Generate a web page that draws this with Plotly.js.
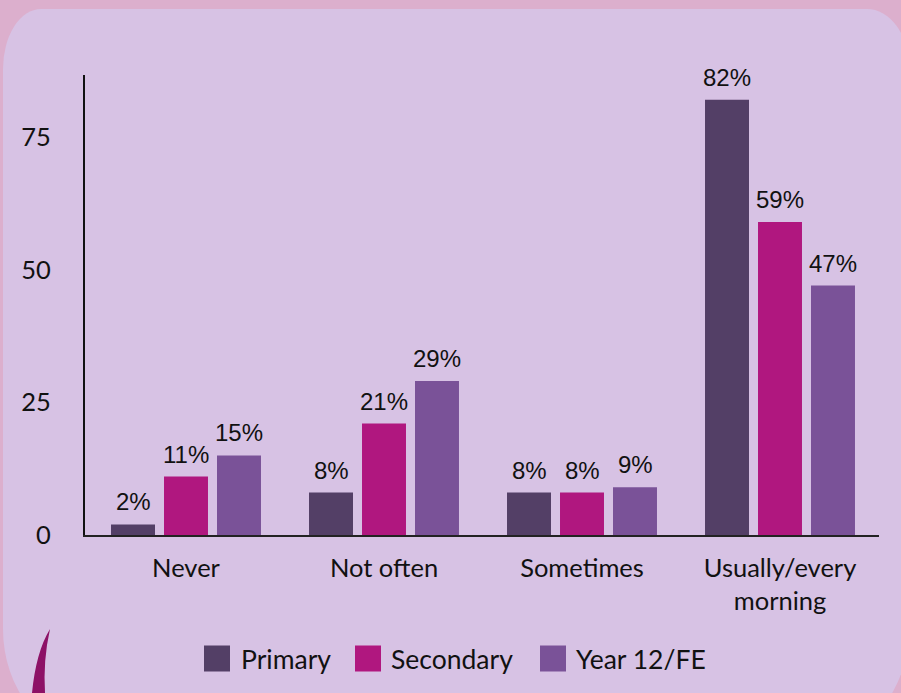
<!DOCTYPE html>
<html>
<head>
<meta charset="utf-8">
<script src="https://cdn.plot.ly/plotly-3.0.1.min.js"></script>
<style>
  html, body { margin:0; padding:0; }
  body { width:901px; height:693px; overflow:hidden; position:relative; background:#dcafcd; }
  #panel { position:absolute; left:3px; top:9px; width:906px; height:730px; background:#d7c2e4;
           border-radius:38px 42px 90px 90px / 60px 58px 110px 110px; }
  #deco { position:absolute; left:0; top:0; }
  #chart { position:absolute; left:0; top:0; width:901px; height:693px; }
</style>
</head>
<body>
<div id="panel"></div>
<svg id="deco" width="901" height="693"><path d="M50,629 Q36,652 32,693 L45,693 Q43,660 50,629 Z" fill="#8d1166"/></svg>
<div id="chart"></div>
<script>
// ---- data ----
const categories = ['Never', 'Not often', 'Sometimes', 'Usually/every<br>morning'];
const seriesNames = ['Primary', 'Secondary', 'Year 12/FE'];
const primary   = [2, 8, 8, 82];
const secondary = [11, 21, 8, 59];
const year12    = [15, 29, 9, 47];
const yTicks = [0, 25, 50, 75];

// ---- styling ----
const colors = ['#533f66', '#b0177f', '#7a5298'];
const seriesValues = [primary, secondary, year12];
const W = 901, H = 693;
const M = { l: 85, r: 22, t: 75, b: 158 };
const plotW = W - M.l - M.r, plotH = H - M.t - M.b;
const catPx = 198;
const xMax = 3.5, xMin = xMax - plotW / catPx;
const pxPerUnit = 5.307;
const yMax = plotH / pxPerUnit;
const slotPx = 53;
const FS = 25.5;

const traces = seriesValues.map((vals, i) => ({
  type: 'bar',
  name: seriesNames[i],
  x: categories,
  y: vals,
  marker: { color: colors[i] },
  showlegend: false,
  hoverinfo: 'skip'
}));

const annotations = [];
seriesValues.forEach((vals, i) => {
  vals.forEach((v, j) => {
    annotations.push({
      x: categories[j], y: v, xref: 'x', yref: 'y',
      text: v + '%', showarrow: false,
      xanchor: 'center', yanchor: 'bottom',
      xshift: (i - 1) * slotPx, yshift: 7,
      font: { family: 'Liberation Sans, Arial, sans-serif', size: 24, color: '#111' }
    });
  });
});

// manual legend
const shapes = [];
const legSwatchLeft = [204, 355, 540];
const legTextLeft = [239, 389, 574];
const legTop = 645.5, legSize = 26, legMid = 659;
const px2x = px => (px - M.l) / plotW;
const px2y = py => (M.t + plotH - py) / plotH;
seriesNames.forEach((n, i) => {
  shapes.push({
    type: 'rect', xref: 'paper', yref: 'paper',
    x0: px2x(legSwatchLeft[i]), x1: px2x(legSwatchLeft[i] + legSize),
    y0: px2y(legTop + legSize), y1: px2y(legTop),
    fillcolor: colors[i], line: { width: 0 }
  });
  annotations.push({
    xref: 'paper', yref: 'paper', x: px2x(legTextLeft[i]), y: px2y(legMid),
    xanchor: 'left', yanchor: 'middle', showarrow: false, text: n,
    font: { family: 'Lato, sans-serif', size: 26.5, color: '#111' }
  });
});

const layout = {
  width: W, height: H,
  margin: M,
  paper_bgcolor: 'rgba(0,0,0,0)',
  plot_bgcolor: 'rgba(0,0,0,0)',
  barmode: 'group',
  bargap: 0.197,
  bargroupgap: 0.17,
  showlegend: false,
  font: { family: 'Lato, sans-serif', size: FS, color: '#111' },
  xaxis: {
    type: 'category', range: [xMin, xMax],
    showline: true, linecolor: '#222', linewidth: 2,
    showgrid: false, zeroline: false, ticks: '',
    ticklabelstandoff: 9,
    tickfont: { family: 'Lato, sans-serif', size: FS, color: '#111' }
  },
  yaxis: {
    range: [0, yMax], tickvals: yTicks,
    showline: true, linecolor: '#111', linewidth: 2,
    showgrid: false, zeroline: false, ticks: '',
    ticklabelstandoff: 27,
    tickfont: { family: 'Lato, sans-serif', size: FS, color: '#111' }
  },
  shapes: shapes,
  annotations: annotations
};

Plotly.newPlot('chart', traces, layout, { displayModeBar: false, staticPlot: true });
</script>
</body>
</html>
